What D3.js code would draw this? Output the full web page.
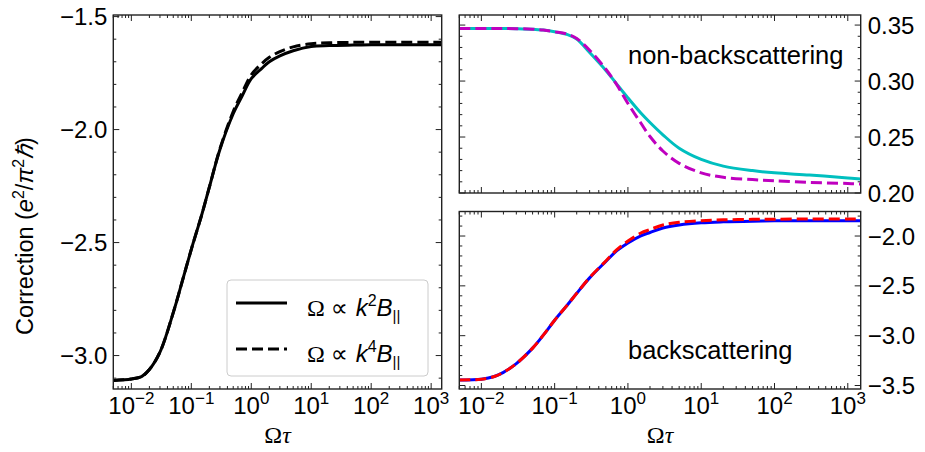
<!DOCTYPE html>
<html>
<head>
<meta charset="utf-8">
<script src="https://cdn.jsdelivr.net/npm/d3@7"></script>
<style>
  html, body { margin: 0; padding: 0; background: #fff; }
  svg { display: block; }
  text { font-family: "Liberation Sans", Arial, Helvetica, sans-serif; fill: #000; }
</style>
</head>
<body>
<svg id="chart" width="925" height="452"></svg>
<script>
// ---------------- data ----------------
const omegaTau = [0.005, 0.01, 0.015, 0.02, 0.03, 0.05, 0.07, 0.1, 0.15, 0.2, 0.3, 0.5, 0.7, 1, 1.5, 2, 3, 5, 10, 20, 50, 100, 300, 1000, 1500];

const totalK2 = [-3.110,-3.104,-3.092,-3.062,-2.985,-2.810,-2.675,-2.530,-2.375,-2.255,-2.088,-1.930,-1.853,-1.775,-1.729,-1.700,-1.674,-1.651,-1.632,-1.628,-1.626,-1.625,-1.625,-1.625,-1.625];
const totalK4 = [-3.110,-3.104,-3.092,-3.062,-2.985,-2.810,-2.675,-2.530,-2.375,-2.255,-2.085,-1.920,-1.838,-1.758,-1.708,-1.680,-1.655,-1.634,-1.620,-1.616,-1.614,-1.614,-1.614,-1.614,-1.614];

const nonBackK2 = [0.347,0.347,0.347,0.347,0.3468,0.3463,0.3455,0.344,0.3415,0.3375,0.3255,0.3095,0.2975,0.285,0.2715,0.263,0.252,0.240,0.230,0.224,0.220,0.218,0.216,0.2135,0.2125];
const nonBackK4 = [0.347,0.347,0.347,0.347,0.3468,0.3463,0.3455,0.344,0.3418,0.338,0.3275,0.3105,0.2970,0.280,0.2625,0.2505,0.2375,0.2265,0.218,0.214,0.212,0.211,0.2095,0.2085,0.208];

const backK2 = [-3.445,-3.437,-3.410,-3.368,-3.280,-3.125,-2.995,-2.845,-2.690,-2.575,-2.420,-2.255,-2.150,-2.070,-1.998,-1.965,-1.920,-1.890,-1.868,-1.858,-1.851,-1.848,-1.847,-1.847,-1.847];
const backK4 = [-3.445,-3.437,-3.410,-3.368,-3.280,-3.125,-2.995,-2.845,-2.690,-2.575,-2.418,-2.250,-2.140,-2.050,-1.970,-1.935,-1.890,-1.862,-1.846,-1.838,-1.833,-1.831,-1.830,-1.830,-1.830];

const xMajorTicks = [0.01, 0.1, 1, 10, 100, 1000];
const xTickExponents = ["−2", "−1", "0", "1", "2", "3"];
const leftYTicks = [-3.0, -2.5, -2.0, -1.5];
const topRightYTicks = [0.20, 0.25, 0.30, 0.35];
const bottomRightYTicks = [-3.5, -3.0, -2.5, -2.0];
const legendLabels = ["2", "4"];
const panelLabels = ["non-backscattering", "backscattering"];

// ---------------- layout ----------------
const svg = d3.select("#chart");
const xDomain = [0.005, 1500];
const FS = 24;

function makePanel(cfg) {
  const g = svg.append("g");
  const x = d3.scaleLog().domain(xDomain).range([cfg.x0, cfg.x1]);
  const y = d3.scaleLinear().domain(cfg.yDomain).range([cfg.y1, cfg.y0]);

  // curves
  const line = d3.line().x(d => x(d[0])).y(d => y(d[1])).curve(d3.curveCatmullRom.alpha(0.5));
  g.append("defs").append("clipPath").attr("id", cfg.id + "clip")
    .append("rect").attr("x", cfg.x0).attr("y", cfg.y0)
    .attr("width", cfg.x1 - cfg.x0).attr("height", cfg.y1 - cfg.y0);
  const cg = g.append("g").attr("clip-path", `url(#${cfg.id}clip)`);
  cfg.series.forEach(s => {
    cg.append("path")
      .datum(omegaTau.map((t, i) => [t, s.values[i]]))
      .attr("d", line)
      .attr("fill", "none")
      .attr("stroke", s.color)
      .attr("stroke-width", 3)
      .attr("stroke-dasharray", s.dash ? "11,5" : null);
  });

  // ticks (inward, all sides)
  const tg = g.append("g").attr("stroke", "#222").attr("stroke-width", 1);
  const xMinor = [];
  for (let e = -3; e <= 3; e++) for (let k = 2; k <= 9; k++) {
    const v = k * Math.pow(10, e);
    if (v >= xDomain[0] && v <= xDomain[1]) xMinor.push(v);
  }
  const xs = [...xMajorTicks.map(v => [v, 6]), ...xMinor.map(v => [v, 3])];
  xs.forEach(([v, L]) => {
    const px = x(v);
    tg.append("line").attr("x1", px).attr("x2", px).attr("y1", cfg.y1).attr("y2", cfg.y1 - L);
    tg.append("line").attr("x1", px).attr("x2", px).attr("y1", cfg.y0).attr("y2", cfg.y0 + L);
  });
  const [lo, hi] = cfg.yDomain;
  const yMinor = d3.range(Math.ceil(lo / cfg.minorStep - 1e-9), Math.floor(hi / cfg.minorStep + 1e-9) + 1)
    .map(i => +(i * cfg.minorStep).toFixed(4));
  yMinor.forEach(v => {
    const isMajor = cfg.yTicks.some(t => Math.abs(t - v) < 1e-6);
    const L = isMajor ? 6 : 3;
    const py = y(v);
    tg.append("line").attr("x1", cfg.x0).attr("x2", cfg.x0 + L).attr("y1", py).attr("y2", py);
    tg.append("line").attr("x1", cfg.x1).attr("x2", cfg.x1 - L).attr("y1", py).attr("y2", py);
  });

  // frame
  g.append("rect").attr("x", cfg.x0).attr("y", cfg.y0)
    .attr("width", cfg.x1 - cfg.x0).attr("height", cfg.y1 - cfg.y0)
    .attr("fill", "none").attr("stroke", "#222").attr("stroke-width", 1.4);

  // y tick labels
  cfg.yTicks.forEach(v => {
    const t = g.append("text")
      .attr("y", y(v)).attr("dy", "0.36em")
      .attr("font-size", FS)
      .text(d3.format(cfg.yFmt)(v));
    if (cfg.yLabelSide === "left") t.attr("x", cfg.x0 - 6).attr("text-anchor", "end");
    else t.attr("x", cfg.x1 + 7).attr("text-anchor", "start");
  });

  // x tick labels
  if (cfg.xLabels) {
    xMajorTicks.forEach((v, i) => {
      const t = g.append("text").attr("x", x(v)).attr("y", cfg.y1 + 25)
        .attr("text-anchor", "middle").attr("font-size", FS);
      t.append("tspan").text("10");
      t.append("tspan").attr("dy", -10).attr("font-size", 17).text(xTickExponents[i]);
    });
    const xl = g.append("text").attr("x", (cfg.x0 + cfg.x1) / 2).attr("y", cfg.y1 + 54)
      .attr("text-anchor", "middle").attr("font-size", 24)
      .style("font-family", "'Liberation Serif', 'DejaVu Serif', serif");
    xl.append("tspan").text("Ω");
    xl.append("tspan").attr("font-style", "italic").text("τ");
  }
  return { g, x, y };
}

// left panel
makePanel({
  id: "L", x0: 113.3, x1: 441.7, y0: 15, y1: 389,
  yDomain: [-3.148, -1.493], yTicks: leftYTicks, minorStep: 0.1, yFmt: ".1f",
  yLabelSide: "left", xLabels: true,
  series: [
    { values: totalK2, color: "#000", dash: false },
    { values: totalK4, color: "#000", dash: true }
  ]
});

// top right
makePanel({
  id: "TR", x0: 459.3, x1: 860.7, y0: 15, y1: 193,
  yDomain: [0.20, 0.359], yTicks: topRightYTicks, minorStep: 0.01, yFmt: ".2f",
  yLabelSide: "right", xLabels: false,
  series: [
    { values: nonBackK2, color: "#00bfbf", dash: false },
    { values: nonBackK4, color: "#bf00bf", dash: true }
  ]
});

// bottom right
makePanel({
  id: "BR", x0: 459.3, x1: 860.7, y0: 211.5, y1: 389,
  yDomain: [-3.535, -1.754], yTicks: bottomRightYTicks, minorStep: 0.1, yFmt: ".1f",
  yLabelSide: "right", xLabels: true,
  series: [
    { values: backK2, color: "#0000ff", dash: false },
    { values: backK4, color: "#ff0000", dash: true }
  ]
});

// panel annotations
svg.append("text").attr("x", 628).attr("y", 64).attr("font-size", 25.5).text(panelLabels[0]);
svg.append("text").attr("x", 628).attr("y", 359).attr("font-size", 25.5).text(panelLabels[1]);

// y-axis label
const yl = svg.append("text")
  .attr("transform", "translate(33,236) rotate(-90)")
  .attr("text-anchor", "middle").attr("font-size", 23.5);
yl.append("tspan").text("Correction (");
yl.append("tspan").attr("font-style", "italic").text("e");
yl.append("tspan").attr("dy", -9).attr("font-size", 16).text("2");
yl.append("tspan").attr("dy", 9).text("/");
yl.append("tspan").attr("font-style", "italic").text("π");
yl.append("tspan").attr("dy", -9).attr("font-size", 16).text("2");
yl.append("tspan").attr("dy", 9).attr("font-style", "italic").text("ℏ");
yl.append("tspan").text(")");

// legend
const lg = svg.append("g");
lg.append("rect").attr("x", 227).attr("y", 280).attr("width", 201).attr("height", 96)
  .attr("rx", 4).attr("fill", "#fff").attr("fill-opacity", 0.85)
  .attr("stroke", "#cccccc").attr("stroke-width", 1);
const legendRows = [
  { lineY: 303, baseY: 316, dash: false },
  { lineY: 349, baseY: 362, dash: true }
];
legendRows.forEach((r, i) => {
  lg.append("line").attr("x1", 236).attr("x2", 287).attr("y1", r.lineY).attr("y2", r.lineY)
    .attr("stroke", "#000").attr("stroke-width", 3)
    .attr("stroke-dasharray", r.dash ? "11,5" : null);
  const t = lg.append("text").attr("x", 307).attr("y", r.baseY).attr("font-size", 24);
  t.append("tspan").style("font-family", "'Liberation Serif', 'DejaVu Serif', serif").text("Ω ");
  t.append("tspan").style("font-family", "'DejaVu Sans', sans-serif").attr("font-size", 24).text("∝ ");
  t.append("tspan").attr("font-style", "italic").text("k");
  t.append("tspan").attr("dy", -10).attr("font-size", 16).text(legendLabels[i]);
  t.append("tspan").attr("dy", 10).attr("font-style", "italic").text("B");
  t.append("tspan").attr("dy", 5).attr("font-size", 15).text("||");
});
</script>
</body>
</html>
